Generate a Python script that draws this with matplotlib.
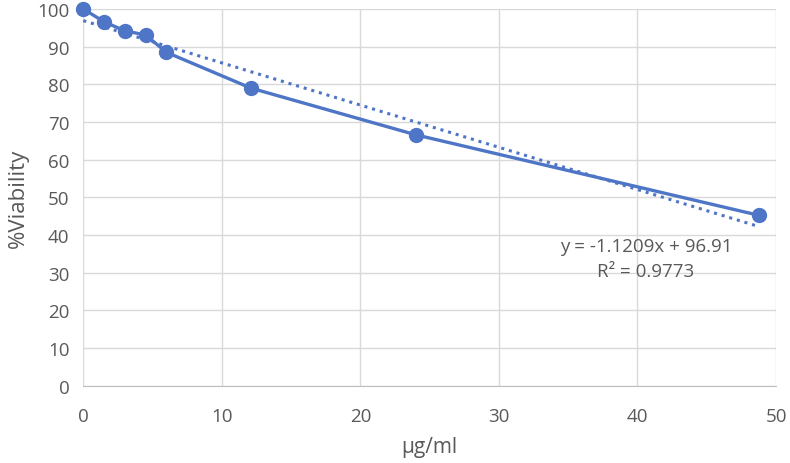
import matplotlib
matplotlib.use("Agg")
import matplotlib.pyplot as plt
import numpy as np

conc = [0, 1.5, 3.0, 4.5, 6.0, 12.1, 24.0, 48.8]
viability = [100, 96.6, 94.2, 93.1, 88.5, 79.0, 66.6, 45.2]
slope = -1.1209
intercept = 96.91
r2 = 0.9773
xticks = [0, 10, 20, 30, 40, 50]
yticks = list(range(0, 101, 10))

plt.rcParams['font.family'] = ['Open Sans', 'DejaVu Sans']
blue = '#4F75C6'
grey_txt = '#595959'
grid_c = '#D9D9D9'

fig = plt.figure(figsize=(7.9, 4.64), dpi=100)
ax = fig.add_axes([83.3/790, 1-386.7/464, (776-83.3)/790, (386.7-10)/464])

xs = np.array([0, max(conc)])
ax.plot(xs, intercept + slope*xs, linestyle=(0, (1, 1.6)), color=blue, linewidth=2.2, zorder=2)
ax.plot(conc, viability, color=blue, linewidth=2.4, marker='o', markersize=10, zorder=3,
        clip_on=False)

ax.set_xlim(0, 50)
ax.set_ylim(0, 100)
ax.set_xticks(xticks)
ax.set_yticks(yticks)
ax.grid(True, color=grid_c, linewidth=1)
ax.set_axisbelow(True)
for s in ['top', 'right', 'left']:
    ax.spines[s].set_visible(False)
ax.spines['bottom'].set_color('#BFBFBF')
ax.tick_params(length=0, labelsize=13.5, colors=grey_txt)
ax.tick_params(axis='y', pad=10)
ax.tick_params(axis='x', pad=15)

ax.set_xlabel('μg/ml', fontsize=15, color=grey_txt, labelpad=8)
ax.set_ylabel('%Viability', fontsize=16, color=grey_txt, labelpad=6)

ax.text(646/790, 1-247/464, f'y = {slope}x + {intercept}', transform=fig.transFigure,
        ha='center', va='center', fontsize=13.5, color=grey_txt)
ax.text(646/790, 1-272/464, f'R² = {r2}', transform=fig.transFigure,
        ha='center', va='center', fontsize=13.5, color=grey_txt)

fig.savefig('out.png', dpi=100)
